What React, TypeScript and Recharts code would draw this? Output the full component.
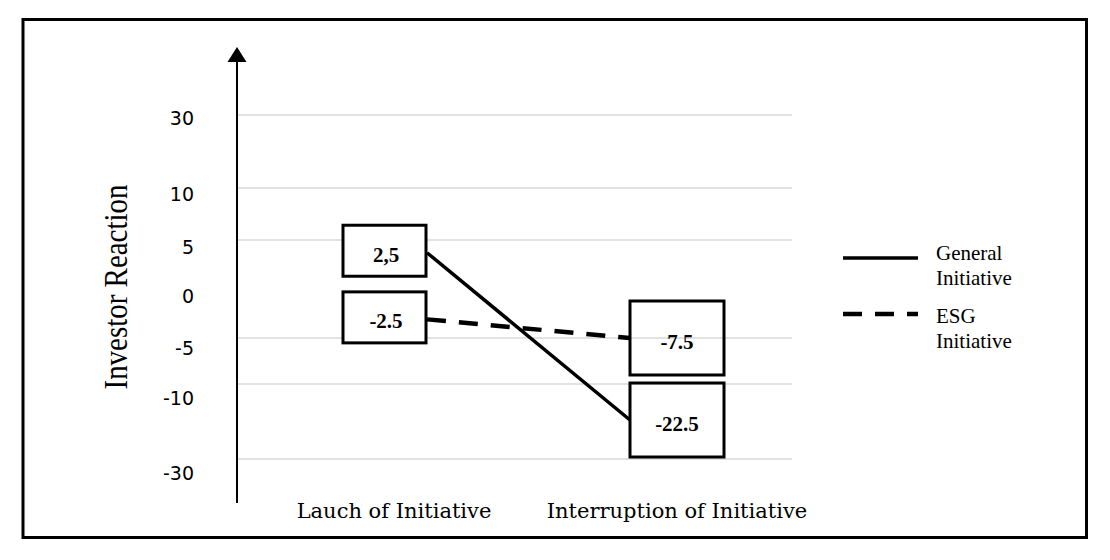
import React from 'react';
import { LineChart, Line, XAxis, YAxis, ReferenceLine, LabelList, Legend } from 'recharts';

// ---- data ----
const stages = ['Lauch of Initiative', 'Interruption of Initiative'];
const generalValues = [3.7, -19.6];
const esgValues = [-3.1, -5.0];
const generalLabels = ['2,5', '-22.5'];
const esgLabels = ['-2.5', '-7.5'];
const yTicks = [-30, -10, -5, 0, 5, 10, 30];
const gridValues = [-30, -10, -5, 5, 10, 30];
const seriesNames = ['General Initiative', 'ESG Initiative'];

// ---- layout of the hand-drawn (irregular) axis: axis units of each tick above plot bottom ----
const tickSlots = [44, 119, 165, 214, 263, 315, 388];
const tickLabelNudge = [14, 14, 10, 7, 7, 6, 3];
const stageLabelNudge = [-33, 47];
const legendTextNudge = [2, 9];

const ESG_DASH = '19 13';

function warp(v: number): number {
  const n = yTicks.length;
  for (let i = 0; i < n - 1; i++) {
    const a = yTicks[i];
    const b = yTicks[i + 1];
    if (v <= b || i === n - 2) {
      const t = (v - a) / (b - a);
      return tickSlots[i] + t * (tickSlots[i + 1] - tickSlots[i]);
    }
  }
  return 0;
}

const data = stages.map((s, i) => ({
  stage: s,
  general: warp(generalValues[i]),
  esg: warp(esgValues[i]),
  generalLabel: generalLabels[i],
  esgLabel: esgLabels[i],
}));

const YTick = (props: any) => {
  const { x, y, payload } = props;
  const idx = yTicks.findIndex((t) => Math.abs(warp(t) - payload.value) < 0.01);
  if (idx < 0) return null;
  return (
    <text
      x={x}
      y={y + tickLabelNudge[idx]}
      textAnchor="end"
      dominantBaseline="central"
      fontFamily="DejaVu Sans"
      fontSize={19}
      fill="#000"
    >
      {yTicks[idx]}
    </text>
  );
};

const XTick = (props: any) => {
  const { x, y, payload, index } = props;
  const i = typeof index === 'number' ? index : stages.indexOf(payload.value);
  return (
    <text
      x={x + (stageLabelNudge[i] || 0)}
      y={y}
      textAnchor="middle"
      fontFamily="DejaVu Serif"
      fontSize={21}
      fill="#000"
    >
      {payload.value}
    </text>
  );
};

const YTitle = () => (
  <text
    x={127}
    y={287}
    transform="rotate(-90 127 287)"
    textAnchor="middle"
    fontFamily="Liberation Serif"
    fontSize={33}
    textLength={205}
    lengthAdjust="spacingAndGlyphs"
    fill="#000"
  >
    Investor Reaction
  </text>
);

const BoxLabel = (props: any) => {
  const { x, y, value, index } = props;
  const left = index === 0;
  const w = left ? 83 : 94;
  const h = left ? 51 : 74;
  const bx = left ? x - w - 1 : x;
  const cy = left ? y - 2 : y;
  return (
    <g>
      <rect
        x={bx}
        y={cy - h / 2}
        width={w}
        height={h}
        fill={left ? '#fff' : 'none'}
        stroke="#000"
        strokeWidth={3}
      />
      <text
        x={bx + w / 2 + (left ? 1.5 : 0)}
        y={cy + 4}
        textAnchor="middle"
        dominantBaseline="central"
        fontFamily="Liberation Serif"
        fontWeight="bold"
        fontSize={21}
        fill="#000"
      >
        {value}
      </text>
    </g>
  );
};

const dashByKey: Record<string, string | undefined> = { general: undefined, esg: ESG_DASH };
const widthByKey: Record<string, number> = { general: 3.5, esg: 4.5 };

const LegendContent = (props: any) => {
  const raw: any[] = props.payload || [];
  const items = [...raw].sort(
    (a, b) => seriesNames.indexOf(String(a.value)) - seriesNames.indexOf(String(b.value))
  );
  return (
    <svg width={200} height={130} style={{ overflow: 'visible' }}>
      {items.map((it, i) => {
        const key = String(it.dataKey);
        const y0 = 18 + i * 56;
        const words = String(it.value).split(' ');
        const ty = y0 + legendTextNudge[i];
        return (
          <g key={key}>
            <line
              x1={0}
              x2={75}
              y1={y0}
              y2={y0}
              stroke="#000"
              strokeWidth={widthByKey[key] || 3}
              strokeDasharray={dashByKey[key]}
            />
            <text x={93} y={ty} fontFamily="Liberation Serif" fontSize={21} fill="#000">
              {words.map((w, j) => (
                <tspan key={j} x={93} dy={j === 0 ? 0 : 24.5}>
                  {w}
                </tspan>
              ))}
            </text>
          </g>
        );
      })}
    </svg>
  );
};

export default function App() {
  return (
    <div style={{ position: 'absolute', left: 0, top: 0, width: 1110, height: 560, background: '#fff' }}>
      <LineChart width={1110} height={560} data={data} margin={{ top: 60, right: 318, bottom: 0, left: 0 }}>
        {gridValues.map((g) => (
          <ReferenceLine key={g} y={warp(g)} stroke="#d9d9d9" strokeWidth={1.5} />
        ))}
        <XAxis
          dataKey="stage"
          padding={{ left: 190, right: 162 }}
          height={57}
          axisLine={false}
          tickLine={false}
          tickSize={0}
          tickMargin={15}
          interval={0}
          tick={<XTick />}
        />
        <YAxis
          type="number"
          domain={[0, 443]}
          allowDataOverflow
          ticks={yTicks.map(warp)}
          interval={0}
          width={237}
          axisLine={{ stroke: '#000', strokeWidth: 2 }}
          tickLine={false}
          tickSize={0}
          tickMargin={43}
          tick={<YTick />}
          label={<YTitle />}
        />
        <Legend
          layout="horizontal"
          align="center"
          verticalAlign="middle"
          wrapperStyle={{ left: 843, top: 240, width: 200, height: 130 }}
          content={<LegendContent />}
        />
        <Line
          type="linear"
          dataKey="general"
          name={seriesNames[0]}
          stroke="#000"
          strokeWidth={3.5}
          dot={false}
          activeDot={false}
          isAnimationActive={false}
        >
          <LabelList dataKey="generalLabel" content={<BoxLabel />} />
        </Line>
        <Line
          type="linear"
          dataKey="esg"
          name={seriesNames[1]}
          stroke="#000"
          strokeWidth={4.5}
          strokeDasharray={ESG_DASH}
          dot={false}
          activeDot={false}
          isAnimationActive={false}
        >
          <LabelList dataKey="esgLabel" content={<BoxLabel />} />
        </Line>
      </LineChart>
      <svg
        width={1110}
        height={560}
        style={{ position: 'absolute', left: 0, top: 0, pointerEvents: 'none' }}
      >
        <rect x={23} y={19.5} width={1063.5} height={518} fill="none" stroke="#000" strokeWidth={3} />
        <polygon points="237,47 227.5,62 246.5,62" fill="#000" />
      </svg>
    </div>
  );
}
